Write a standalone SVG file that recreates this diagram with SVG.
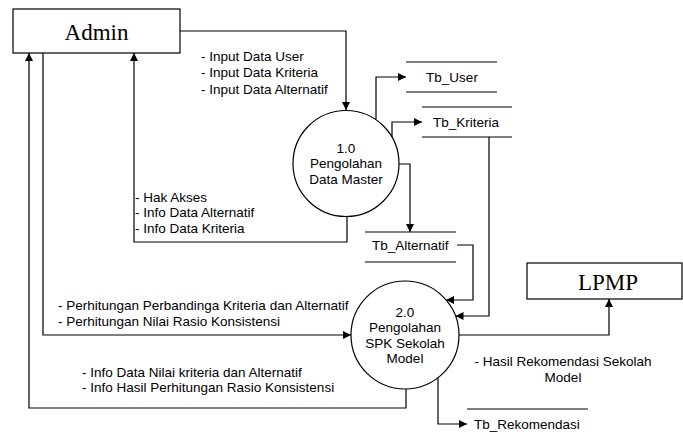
<svg xmlns="http://www.w3.org/2000/svg" width="683" height="436" viewBox="0 0 683 436">
<style>
.box{fill:#fff;stroke:#000;stroke-width:1.2}
.proc{fill:#fff;stroke:#000;stroke-width:1.2}
.store{stroke:#000;stroke-width:1.2}
.ent{font-family:"Liberation Serif",serif;font-size:23px;fill:#000;text-anchor:middle}
.t{font-family:"Liberation Sans",Arial,sans-serif;font-size:13.5px;fill:#000}
.c{text-anchor:middle}
.flow{fill:none;stroke:#000;stroke-width:1.2}
</style>
<defs>
<marker id="arr" viewBox="0 0 10 10" refX="10" refY="5" markerWidth="9" markerHeight="8" markerUnits="userSpaceOnUse" orient="auto">
<path d="M0,0 L10,5 L0,10 z" fill="#000"/>
</marker>
</defs>
<rect width="683" height="436" fill="#fff"/>
<g id="connectors">
<path class="flow" d="M180,31 H346 V110" marker-end="url(#arr)"/>
<path class="flow" d="M376,119.5 V77 H406" marker-end="url(#arr)"/>
<path class="flow" d="M392,137 V122 H422" marker-end="url(#arr)"/>
<path class="flow" d="M399,164 H410 V232" marker-end="url(#arr)"/>
<path class="flow" d="M347,216 V242 H134 V53" marker-end="url(#arr)"/>
<path class="flow" d="M43,53 V335 H351" marker-end="url(#arr)"/>
<path class="flow" d="M406,389 V408 H29 V53" marker-end="url(#arr)"/>
<path class="flow" d="M457,245 H473 V300 H446" marker-end="url(#arr)"/>
<path class="flow" d="M489,137 V316 H455.5" marker-end="url(#arr)"/>
<path class="flow" d="M459,335 H609 V299" marker-end="url(#arr)"/>
<path class="flow" d="M438,378 V424 H467" marker-end="url(#arr)"/>
<text class="t" x="201" y="60.5">- Input Data User</text>
<text class="t" x="201" y="77">- Input Data Kriteria</text>
<text class="t" x="201" y="93.5">- Input Data Alternatif</text>
<text class="t" x="135" y="201.5">- Hak Akses</text>
<text class="t" x="135" y="217">- Info Data Alternatif</text>
<text class="t" x="135" y="233">- Info Data Kriteria</text>
<text class="t" x="58" y="309.5">- Perhitungan Perbandinga Kriteria dan Alternatif</text>
<text class="t" x="58" y="325.5">- Perhitungan Nilai Rasio Konsistensi</text>
<text class="t" x="82" y="376.5">- Info Data Nilai kriteria dan Alternatif</text>
<text class="t" x="82" y="391.5">- Info Hasil Perhitungan Rasio Konsistensi</text>
<text class="t c" x="563" y="365.5">- Hasil Rekomendasi Sekolah</text>
<text class="t c" x="563" y="381.5">Model</text>
</g>
<g id="admin">
<rect class="box" x="13" y="9" width="167" height="44"/>
<text class="ent" x="96.5" y="39.5">Admin</text>
</g>
<g id="lpmp">
<rect class="box" x="527" y="263" width="155" height="36"/>
<text class="ent" x="608" y="289.5">LPMP</text>
</g>
<g id="proc1">
<circle class="proc" cx="346" cy="163.5" r="53"/>
<text class="t c" x="346" y="152.8">1.0</text>
<text class="t c" x="346" y="168">Pengolahan</text>
<text class="t c" x="346" y="183.8">Data Master</text>
</g>
<g id="proc2">
<circle class="proc" cx="405" cy="335" r="54"/>
<text class="t c" x="405" y="316.5">2.0</text>
<text class="t c" x="405" y="332">Pengolahan</text>
<text class="t c" x="405" y="347.5">SPK Sekolah</text>
<text class="t c" x="405" y="363">Model</text>
</g>
<g id="tb_user">
<line class="store" x1="406" y1="62" x2="497" y2="62"/>
<line class="store" x1="406" y1="92" x2="497" y2="92"/>
<text class="t c" x="452" y="81.5">Tb_User</text>
</g>
<g id="tb_kriteria">
<line class="store" x1="422" y1="107" x2="512" y2="107"/>
<line class="store" x1="422" y1="137" x2="512" y2="137"/>
<text class="t c" x="466" y="126.5">Tb_Kriteria</text>
</g>
<g id="tb_alternatif">
<line class="store" x1="365" y1="232" x2="456" y2="232"/>
<line class="store" x1="365" y1="262" x2="456" y2="262"/>
<text class="t" x="372" y="249.5">Tb_Alternatif</text>
</g>
<g id="tb_rekomendasi">
<line class="store" x1="467" y1="409" x2="588" y2="409"/>
<text class="t" x="474" y="428.5">Tb_Rekomendasi</text>
</g>
</svg>
